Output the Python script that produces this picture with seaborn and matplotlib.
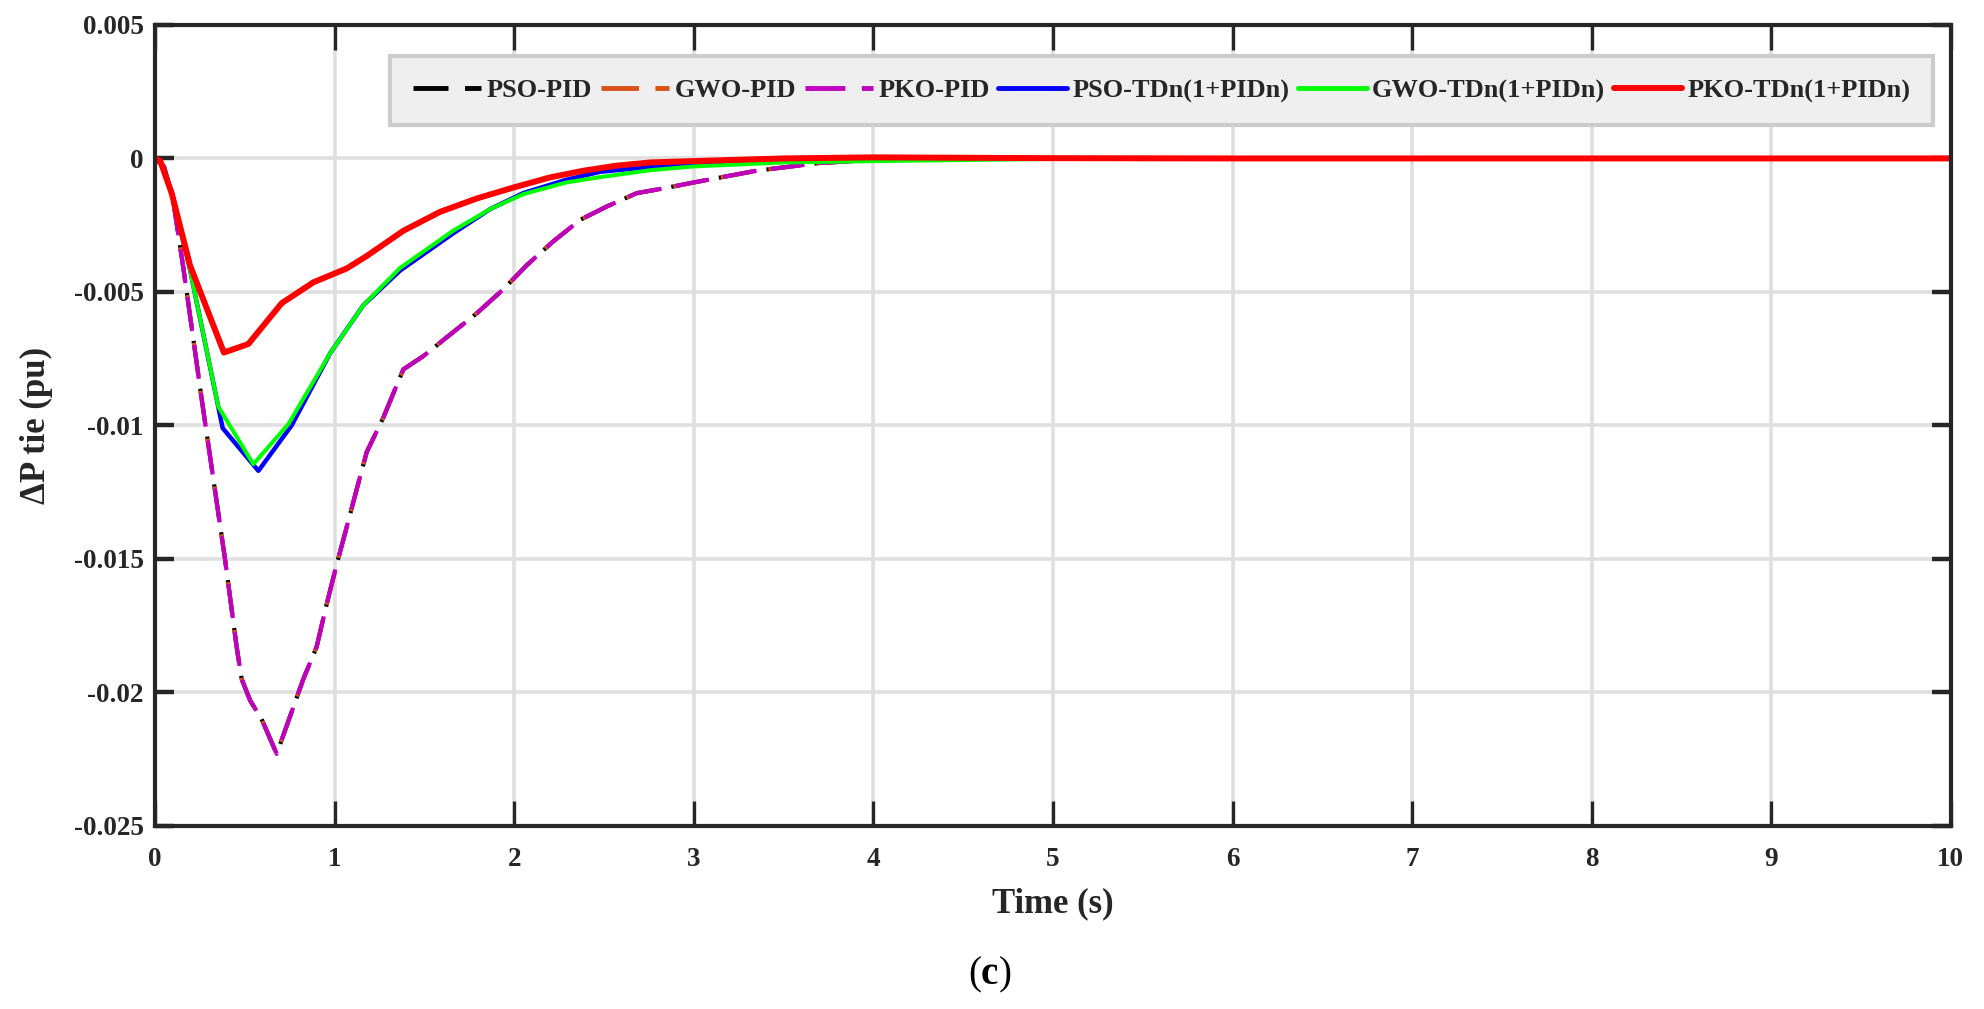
import numpy as np
import pandas as pd
import seaborn as sns
import matplotlib
matplotlib.use("Agg")
import matplotlib.pyplot as plt

sns.set_style("white")
plt.rcParams['font.family'] = ['Liberation Serif', 'DejaVu Serif']
plt.rcParams['font.weight'] = 'bold'
plt.rcParams['axes.unicode_minus'] = False
plt.rcParams['mathtext.fontset'] = 'custom'
plt.rcParams['mathtext.rm'] = 'Liberation Serif'
plt.rcParams['mathtext.bf'] = 'Liberation Serif:bold'

# ---- data ----
t_pid = [0, 0.05, 0.1, 0.158, 0.204, 0.26, 0.325, 0.39, 0.455, 0.483, 0.53, 0.594,
         0.678, 0.752, 0.826, 0.9, 0.956, 1.012, 1.068, 1.123, 1.179, 1.272, 1.383,
         1.495, 1.643, 1.792, 1.94, 2.07, 2.219, 2.368, 2.516, 2.683, 2.85, 3.0,
         3.35, 3.7, 4.0, 4.5, 10]
pso_pid = [0, -0.0003, -0.0015, -0.0041, -0.0063, -0.0090, -0.0120, -0.0150, -0.0183,
           -0.0195, -0.0203, -0.0210, -0.0223, -0.0209, -0.0195, -0.0183, -0.0167,
           -0.0152, -0.0138, -0.0124, -0.0110, -0.0097, -0.0079, -0.0074, -0.0066,
           -0.0058, -0.0049, -0.0040, -0.0031, -0.0023, -0.0018, -0.0013, -0.0011,
           -0.0009, -0.00046, -0.00017, -0.00006, 0, 0]
gwo_pid = list(pso_pid)
pko_pid = list(pso_pid)

t_pso_tdn = [0, 0.03, 0.095, 0.19, 0.377, 0.576, 0.761, 0.975, 1.16, 1.365, 1.662,
             1.866, 2.05, 2.29, 2.48, 2.76, 3.0, 3.5, 4.0, 5.0, 10]
pso_tdn = [0, -0.0001, -0.0013, -0.0040, -0.0101, -0.0117, -0.0100, -0.0073, -0.0055,
           -0.0042, -0.0028, -0.0019, -0.0013, -0.0008, -0.0005, -0.00032, -0.0002,
           -0.00008, -0.00003, 0, 0]

t_gwo_tdn = [0, 0.03, 0.095, 0.19, 0.353, 0.548, 0.743, 0.975, 1.16, 1.365, 1.662,
             1.866, 2.05, 2.29, 2.48, 2.76, 3.0, 3.5, 4.0, 5.0, 6.0, 10]
gwo_tdn = [0, -0.0001, -0.0013, -0.0040, -0.0093, -0.01145, -0.00995, -0.0073, -0.0055,
           -0.0041, -0.0027, -0.0019, -0.00134, -0.0009, -0.0007, -0.00044, -0.0003,
           -0.00015, -0.0001, -0.00002, 0, 0]

t_pko_tdn = [0, 0.03, 0.093, 0.195, 0.384, 0.52, 0.706, 0.882, 1.068, 1.18, 1.383,
             1.588, 1.792, 1.996, 2.2, 2.386, 2.57, 2.758, 3.0, 3.5, 4.0, 5.0, 6.0, 10]
pko_tdn = [0, -0.0001, -0.0013, -0.0040, -0.00727, -0.00695, -0.00542, -0.00464,
           -0.00412, -0.00365, -0.00271, -0.0020, -0.0015, -0.00109, -0.00071, -0.00046,
           -0.00027, -0.00015, -0.0001, 0.0, 0.00004, 0.00001, 0, 0]

x_ticks = [0, 1, 2, 3, 4, 5, 6, 7, 8, 9, 10]
y_ticks = [0.005, 0, -0.005, -0.01, -0.015, -0.02, -0.025]
y_tick_labels = ["0.005", "0", "-0.005", "-0.01", "-0.015", "-0.02", "-0.025"]

fig = plt.figure(figsize=(19.84, 10.09), dpi=100)
ax = fig.add_axes([0.0781, 0.1814, 0.9052, 0.7939])

dash = (8.2, 3.4)
sns.lineplot(x=t_pid, y=pso_pid, ax=ax, color="black", lw=3.0,
             linestyle=(1.0, dash), label="PSO-PID", sort=False)
sns.lineplot(x=t_pid, y=gwo_pid, ax=ax, color="#D95319", lw=3.0,
             linestyle=(0.5, dash), label="GWO-PID", sort=False)
sns.lineplot(x=t_pid, y=pko_pid, ax=ax, color="#C000C0", lw=3.0,
             linestyle=(0, dash), label="PKO-PID", sort=False)
sns.lineplot(x=t_pso_tdn, y=pso_tdn, ax=ax, color="#0000FF", lw=3.2,
             label="PSO-TDn(1+PIDn)", sort=False)
sns.lineplot(x=t_gwo_tdn, y=gwo_tdn, ax=ax, color="#00FF00", lw=2.9,
             label="GWO-TDn(1+PIDn)", sort=False)
sns.lineplot(x=t_pko_tdn, y=pko_tdn, ax=ax, color="#FF0000", lw=4.3,
             label="PKO-TDn(1+PIDn)", sort=False)

ax.set_xlim(0, 10)
ax.set_ylim(-0.025, 0.005)
ax.set_xticks(x_ticks)
ax.set_xticklabels([str(v) for v in x_ticks])
ax.set_yticks(y_ticks)
ax.set_yticklabels(y_tick_labels)

ax.grid(True, color="#dfdfdf", lw=2.6)
ax.set_axisbelow(True)
for s in ax.spines.values():
    s.set_color("#262626")
    s.set_linewidth(3.0)

ax.tick_params(axis="x", direction="in", length=18, width=2.4, color="#262626",
               top=True, bottom=True, labelsize=19.5, labelcolor="#262626", pad=15)
ax.tick_params(axis="y", direction="in", length=14, width=3.2, color="#262626",
               left=True, right=True, labelsize=19.5, labelcolor="#262626", pad=8)
for lab in ax.get_xticklabels() + ax.get_yticklabels():
    lab.set_fontweight("bold")

ax.set_xlabel("Time (s)", fontsize=25, fontweight="bold", color="#262626")
ax.set_ylabel("\u0394P tie (pu)", fontsize=25, fontweight="bold", color="#262626")
ax.xaxis.set_label_coords(0.5, -0.076)
ax.yaxis.set_label_coords(-0.057, 0.5)

leg = ax.legend(loc="lower left", bbox_to_anchor=(0.131, 0.875, 0.859, 0.085),
                mode="expand", ncol=6, fontsize=19, handlelength=2.6,
                handletextpad=0.2, columnspacing=0.3, borderpad=0.85,
                borderaxespad=0, frameon=True, fancybox=False)
leg.get_frame().set_facecolor("#efefef")
leg.get_frame().set_edgecolor("#cccccc")
leg.get_frame().set_linewidth(3.0)
leg.get_frame().set_alpha(1)
for txt in leg.get_texts():
    txt.set_fontweight("bold")
for line in leg.get_lines():
    line.set_linewidth(max(line.get_linewidth(), 3.5))

fig.text(990 / 1984, 1 - 975 / 1009, r"($\mathbf{c}$)", fontsize=28,
         ha="center", va="center", color="black", fontweight="normal")

fig.savefig("out.png", dpi=100)
